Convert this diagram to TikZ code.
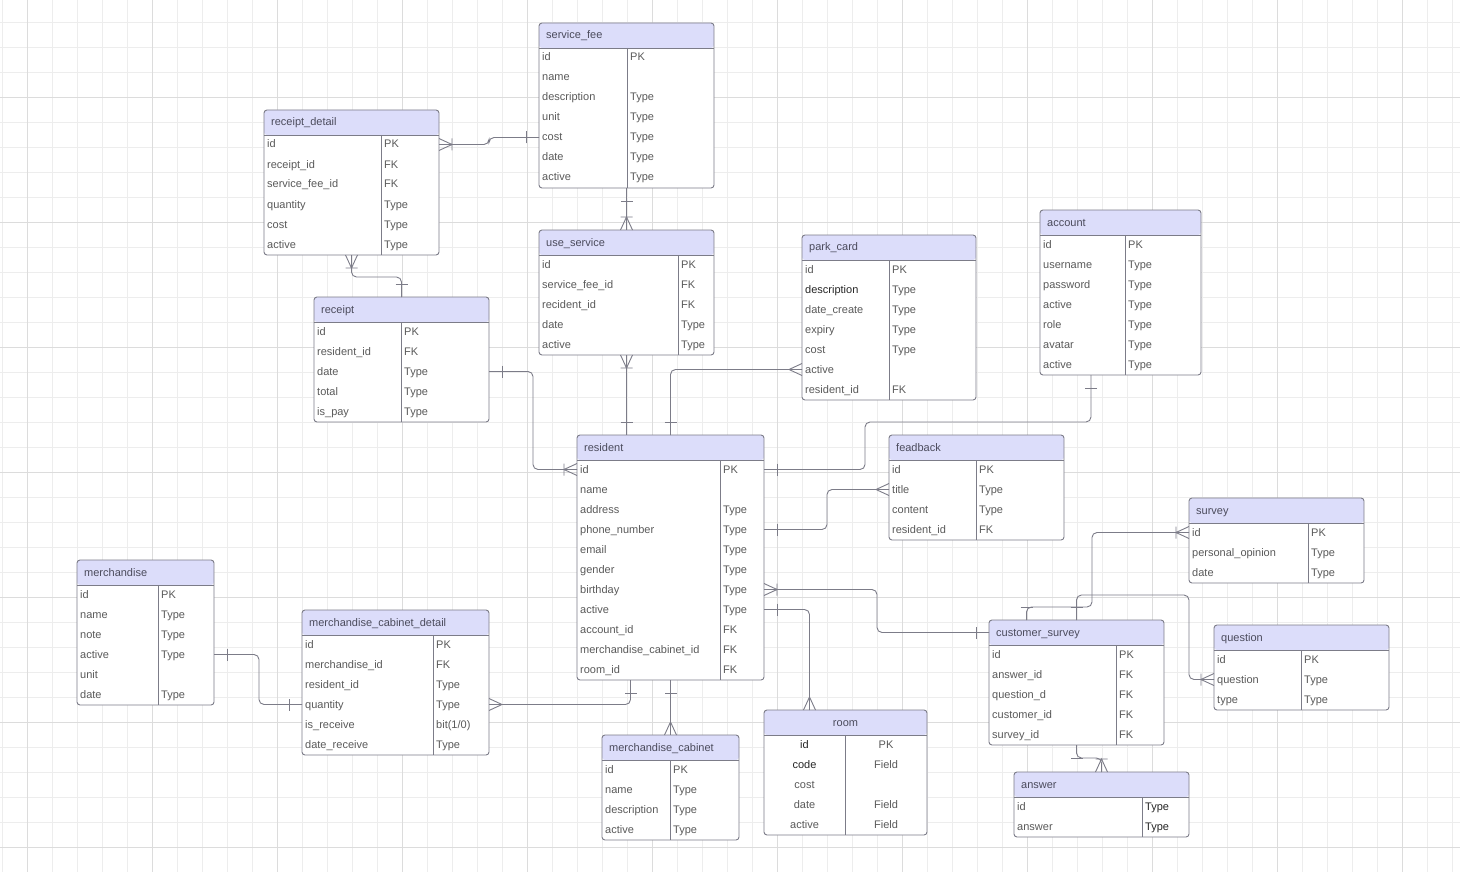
\documentclass[tikz,border=0pt]{standalone}
\usepackage{fontspec}
\setmainfont{Liberation Sans}
\usepackage{tikz}
\usetikzlibrary{calc}
\definecolor{erhead}{HTML}{DCDDFA}
\definecolor{erline}{HTML}{7C7C88}
\definecolor{ertext}{HTML}{5A5A5A}
\definecolor{ertitle}{HTML}{4B4B5C}
\definecolor{erdark}{HTML}{262626}
\definecolor{gridminor}{HTML}{EDEDED}
\definecolor{gridmajor}{HTML}{DCDCDC}
\tikzset{
  tabbox/.style={rectangle, draw=erline, fill=white, line width=0.9pt, rounded corners=3pt,
                 inner sep=0pt, outer sep=0pt, anchor=north west,
                 path picture={\fill[erhead] (path picture bounding box.north west)
                   rectangle ([yshift=-25pt]path picture bounding box.north east);}},
  tabline/.style={draw=erline, line width=0.9pt},
  fieldtxt/.style={inner sep=0pt, text height=9pt, text depth=2pt, text=ertext,
                   font=\fontsize{11}{13}\selectfont},
  titletxt/.style={fieldtxt, text=ertitle},
  rel/.style={draw=erline, line width=0.9pt, rounded corners=5pt},
  crowfoot/.pic={\draw[rel, sharp corners] (0,-6) -- (13,0) -- (0,6);},
  crowbar/.pic={\draw[rel, sharp corners] (0,-6) -- (13,0) -- (0,6) (13,-6) -- (13,6);},
  onebar/.pic={\draw[rel] (13,-6) -- (13,6);},
}
\newcommand{\darkfield}[1]{\textcolor{erdark}{#1}}
\def\ercenter{center}
% [align]{name}{x}{y}{width}{divider}{rows}{title}{field/type list}
\newcommand{\ertable}[9][left]{%
  \node[tabbox, minimum width=#5, minimum height=25+20*#7] (#2) at (#3,#4) {};
  \draw[tabline] ([yshift=-25pt]#2.north west) -- ([yshift=-25pt]#2.north east)
                 ([xshift=#6, yshift=-25pt]#2.north west) -- ([xshift=#6]#2.south west);
  \def\eralign{#1}%
  \ifx\eralign\ercenter
    \node[titletxt, anchor=base] (#2-title) at ([yshift=-16pt]#2.north) {#8};
    \foreach \f/\t [count=\k] in {#9} {
      \node[fieldtxt, anchor=base] (#2-r\k) at ([xshift=#6/2, yshift=-18-20*\k]#2.north west) {\f};
      \node[fieldtxt, anchor=base] (#2-t\k) at ([xshift=(#5+#6)/2, yshift=-18-20*\k]#2.north west) {\t};
    }
  \else
    \node[titletxt, anchor=base west] (#2-title) at ([xshift=7pt, yshift=-16pt]#2.north west) {#8};
    \foreach \f/\t [count=\k] in {#9} {
      \node[fieldtxt, anchor=base west] (#2-r\k) at ([xshift=3, yshift=-18-20*\k]#2.north west) {\f};
      \node[fieldtxt, anchor=base west] (#2-t\k) at ([xshift=#6+3, yshift=-18-20*\k]#2.north west) {\t};
    }
  \fi
}

\begin{document}
\begin{tikzpicture}[x=1pt, y=-1pt]
  \useasboundingbox (0,0) rectangle (1460,872);
  \fill[white] (0,0) rectangle (1460,872);
  \foreach \gx in {2.5,27.5,...,1460} \draw[gridminor, line width=0.8pt] (\gx,0) -- (\gx,872);
  \foreach \gy in {22,47,...,872} \draw[gridminor, line width=0.8pt] (0,\gy) -- (1460,\gy);
  \foreach \gx in {27.5,152.5,...,1460} \draw[gridmajor, line width=0.9pt] (\gx,0) -- (\gx,872);
  \foreach \gy in {97,222,...,872} \draw[gridmajor, line width=0.9pt] (0,\gy) -- (1460,\gy);

  \ertable{servicefee}{539}{23}{175}{88}{7}{service\_fee}
    {id/PK, name/{}, description/Type, unit/Type, cost/Type, date/Type, active/Type}
  \ertable{receiptdetail}{264}{110}{175}{117}{6}{receipt\_detail}
    {id/PK, receipt\_id/FK, service\_fee\_id/FK, quantity/Type, cost/Type, active/Type}
  \ertable{useservice}{539}{230}{175}{139}{5}{use\_service}
    {id/PK, service\_fee\_id/FK, recident\_id/FK, date/Type, active/Type}
  \ertable{parkcard}{802}{235}{174}{87}{7}{park\_card}
    {id/PK, {\darkfield{description}}/Type, date\_create/Type, expiry/Type, cost/Type, active/{}, resident\_id/FK}
  \ertable{account}{1040}{210}{161}{85}{7}{account}
    {id/PK, username/Type, password/Type, active/Type, role/Type, avatar/Type, active/Type}
  \ertable{receipt}{314}{297}{175}{87}{5}{receipt}
    {id/PK, resident\_id/FK, date/Type, total/Type, is\_pay/Type}
  \ertable{resident}{577}{435}{187}{143}{11}{resident}
    {id/PK, name/{}, address/Type, phone\_number/Type, email/Type, gender/Type, birthday/Type,
     active/Type, account\_id/FK, merchandise\_cabinet\_id/FK, room\_id/FK}
  \ertable{feadback}{889}{435}{175}{87}{4}{feadback}
    {id/PK, title/Type, content/Type, resident\_id/FK}
  \ertable{survey}{1189}{498}{175}{119}{3}{survey}
    {id/PK, personal\_opinion/Type, date/Type}
  \ertable{merchandise}{77}{560}{137}{81}{6}{merchandise}
    {id/PK, name/Type, note/Type, active/Type, unit/{}, date/Type}
  \ertable{mcdetail}{302}{610}{187}{131}{6}{merchandise\_cabinet\_detail}
    {id/PK, merchandise\_id/FK, resident\_id/Type, quantity/Type, is\_receive/{bit(1/0)}, date\_receive/Type}
  \ertable{customersurvey}{989}{620}{175}{127}{5}{customer\_survey}
    {id/PK, answer\_id/FK, question\_d/FK, customer\_id/FK, survey\_id/FK}
  \ertable{question}{1214}{625}{175}{87}{3}{question}
    {id/PK, question/Type, type/Type}
  \ertable{mcabinet}{602}{735}{137}{68}{4}{merchandise\_cabinet}
    {id/PK, name/Type, description/Type, active/Type}
  \ertable[center]{room}{764}{710}{163}{81}{5}{room}
    {{\darkfield{id}}/PK, {\darkfield{code}}/Field, cost/{}, date/Field, active/Field}
  \ertable{answer}{1014}{772}{175}{128}{2}{answer}
    {id/{\darkfield{Type}}, answer/{\darkfield{Type}}}

  % relations
  \draw[rel] (receiptdetail.east |- receiptdetail-r1) -- ++(50,0) |- (servicefee.west |- servicefee-r5);
  \pic at (receiptdetail.east |- receiptdetail-r1) {crowbar};
  \pic[rotate=180] at (servicefee.west |- servicefee-r5) {onebar};

  \draw[rel] (servicefee.south) -- (useservice.north);
  \pic[rotate=-90] at (servicefee.south) {onebar};
  \pic[rotate=90] at (useservice.north) {crowbar};

  \draw[rel] (receiptdetail.south) -- ++(0,22) -| (receipt.north);
  \pic[rotate=-90] at (receiptdetail.south) {crowbar};
  \pic[rotate=90] at (receipt.north) {onebar};

  \draw[rel] (receipt.east |- receipt-r3) -- ++(44,0) |- (resident.west |- resident-r1);
  \pic at (receipt.east |- receipt-r3) {onebar};
  \pic[rotate=180] at (resident.west |- resident-r1) {crowbar};

  \draw[rel] (useservice.south) -- (useservice.south |- resident.north);
  \pic[rotate=-90] at (useservice.south) {crowbar};
  \pic[rotate=90] at (useservice.south |- resident.north) {onebar};

  \draw[rel] (parkcard.west |- parkcard-r6) -| (resident.north);
  \pic[rotate=180] at (parkcard.west |- parkcard-r6) {crowfoot};
  \pic[rotate=90] at (resident.north) {onebar};

  \draw[rel] ([xshift=-29.5pt]account.south) -- ++(0,47) -- ++(-226,0) |- (resident.east |- resident-r1);
  \pic[rotate=-90] at ([xshift=-29.5pt]account.south) {onebar};
  \pic at (resident.east |- resident-r1) {onebar};

  \draw[rel] (feadback.west |- feadback-r2) -- ++(-62,0) |- (resident.east |- resident-r4);
  \pic[rotate=180] at (feadback.west |- feadback-r2) {crowfoot};
  \pic at (resident.east |- resident-r4) {onebar};

  \draw[rel] (resident.east |- resident-r7) -- ++(113,0) |- (customersurvey.west |- customersurvey-title);
  \pic at (resident.east |- resident-r7) {crowbar};
  \pic[rotate=180] at (customersurvey.west |- customersurvey-title) {onebar};

  \draw[rel] (resident.east |- resident-r8) -| ([xshift=-36pt]room.north);
  \pic at (resident.east |- resident-r8) {onebar};
  \pic[rotate=90] at ([xshift=-36pt]room.north) {crowfoot};

  \draw[rel] (resident.south) -- (mcabinet.north);
  \pic[rotate=-90] at (resident.south) {onebar};
  \pic[rotate=90] at (mcabinet.north) {crowfoot};

  \draw[rel] ([xshift=-40pt]resident.south) |- (mcdetail.east |- mcdetail-r4);
  \pic[rotate=-90] at ([xshift=-40pt]resident.south) {onebar};
  \pic at (mcdetail.east |- mcdetail-r4) {crowfoot};

  \draw[rel] (merchandise.east |- merchandise-r4) -- ++(45,0) |- (mcdetail.west |- mcdetail-r4);
  \pic at (merchandise.east |- merchandise-r4) {onebar};
  \pic[rotate=180] at (mcdetail.west |- mcdetail-r4) {onebar};

  \draw[rel] (customersurvey.south) -- ++(0,13) -| (answer.north);
  \pic[rotate=-90] at (customersurvey.south) {onebar};
  \pic[rotate=90] at (answer.north) {crowbar};

  \draw[rel] (survey.west |- survey-r1) -| ($(customersurvey.north)+(15.5,-13)$) -| ([xshift=-50pt]customersurvey.north);
  \pic[rotate=180] at (survey.west |- survey-r1) {crowbar};
  \pic[rotate=90] at ([xshift=-50pt]customersurvey.north) {onebar};

  \draw[rel] (question.west |- question-r2) -- ++(-25,0) |- ($(customersurvey.north)+(0,-25)$) -- (customersurvey.north);
  \pic[rotate=180] at (question.west |- question-r2) {crowbar};
  \pic[rotate=90] at (customersurvey.north) {onebar};
\end{tikzpicture}
\end{document}
